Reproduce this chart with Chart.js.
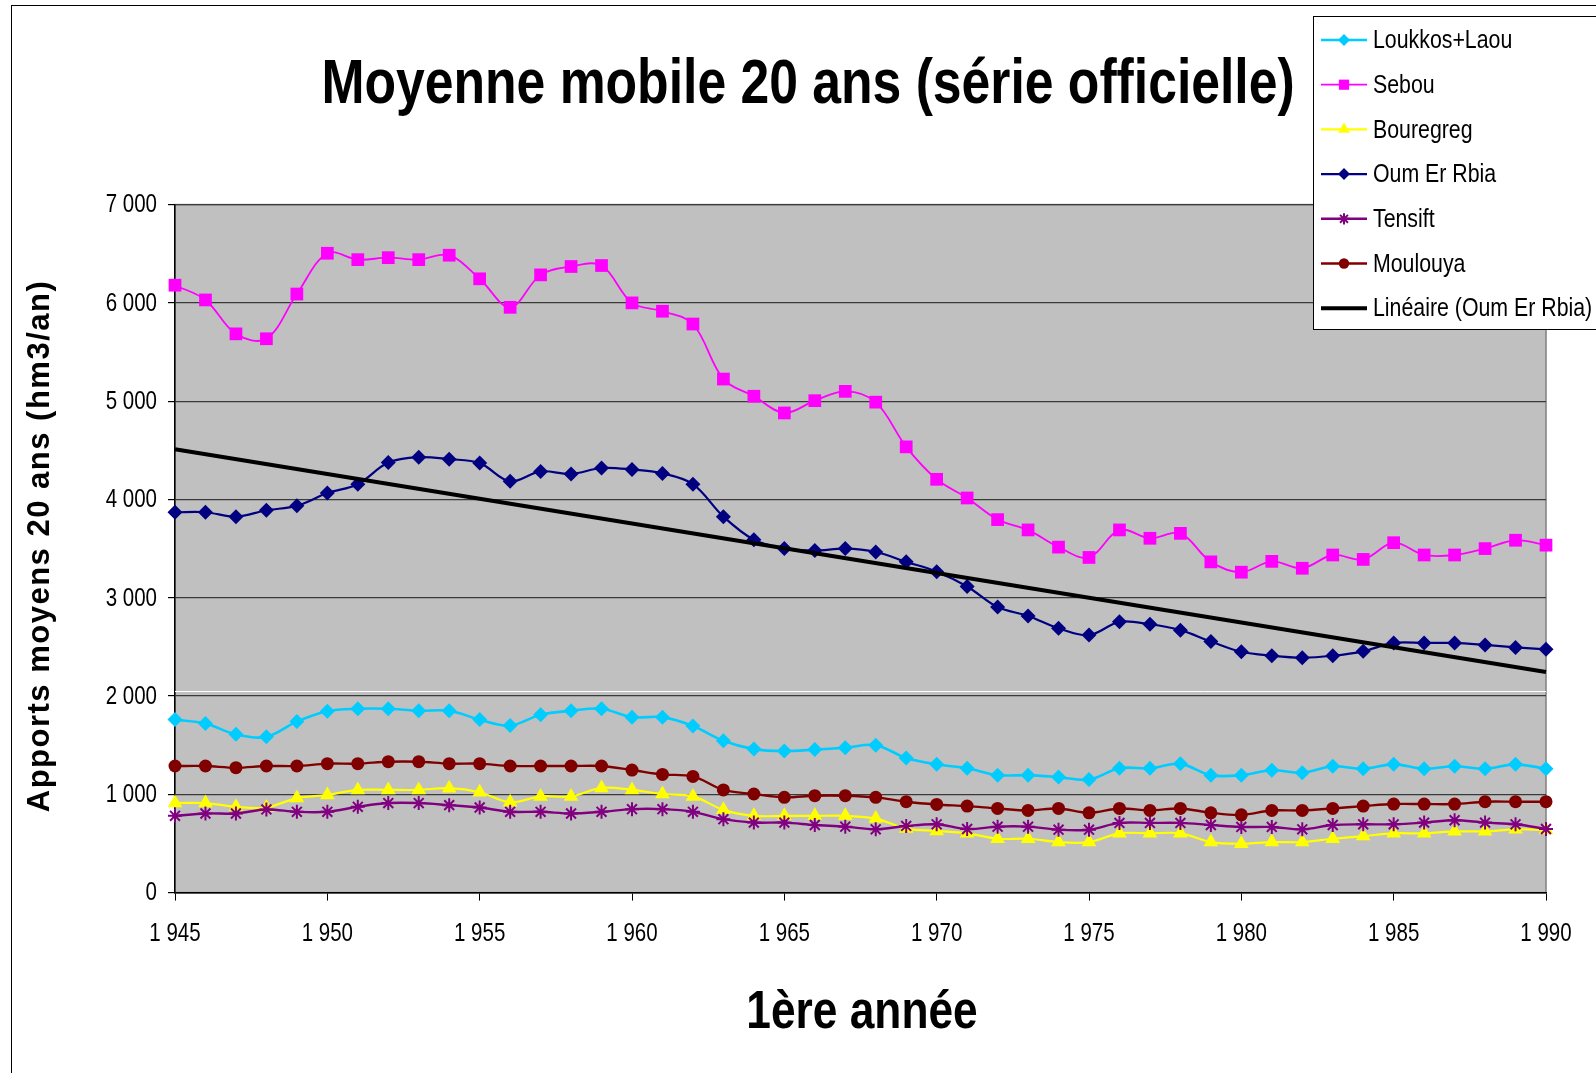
<!DOCTYPE html>
<html>
<head>
<meta charset="utf-8">
<title>Moyenne mobile 20 ans</title>
<script src="https://cdn.jsdelivr.net/npm/chart.js@4.4.1/dist/chart.umd.min.js"></script>
<style>
    body { margin: 0; background: #ffffff; }
    #caja { position: relative; width: 1596px; height: 1073px; }
</style>
</head>
<body>
<div id="caja">
    <canvas id="grafico_moyenne" width="1596" height="1073"></canvas>
</div>
<script>
// DONNEES
var annees = [1945, 1946, 1947, 1948, 1949, 1950, 1951, 1952, 1953, 1954,
    1955, 1956, 1957, 1958, 1959, 1960, 1961, 1962, 1963, 1964,
    1965, 1966, 1967, 1968, 1969, 1970, 1971, 1972, 1973, 1974,
    1975, 1976, 1977, 1978, 1979, 1980, 1981, 1982, 1983, 1984,
    1985, 1986, 1987, 1988, 1989, 1990];

var loukkos = [1760, 1720, 1610, 1585, 1740, 1845, 1870, 1870, 1850, 1850,
    1760, 1700, 1810, 1850, 1870, 1785, 1785, 1695, 1545, 1460,
    1440, 1455, 1475, 1500, 1370, 1305, 1265, 1195, 1195, 1175,
    1150, 1265, 1265, 1310, 1195, 1195, 1245, 1220, 1285, 1260,
    1305, 1260, 1285, 1260, 1305, 1260];

var sebou = [6180, 6030, 5685, 5635, 6090, 6505, 6440, 6460, 6440, 6485,
    6245, 5955, 6285, 6370, 6380, 6000, 5915, 5785, 5225, 5050,
    4880, 5005, 5100, 4990, 4535, 4205, 4015, 3795, 3690, 3515,
    3410, 3690, 3605, 3655, 3365, 3260, 3370, 3300, 3435, 3390,
    3560, 3435, 3435, 3500, 3585, 3535];

var bouregreg = [911, 911, 873, 866, 962, 993, 1045, 1045, 1045, 1062,
    1021, 918, 979, 979, 1065, 1045, 1003, 979, 842, 781,
    781, 781, 781, 753, 651, 627, 603, 548, 548, 514,
    514, 603, 603, 603, 514, 497, 514, 514, 548, 575,
    603, 603, 623, 623, 644, 637];

var oum_er_rbia = [3870, 3870, 3825, 3890, 3935, 4065, 4155, 4375, 4430, 4410,
    4370, 4185, 4285, 4260, 4320, 4305, 4265, 4155, 3825, 3590,
    3500, 3480, 3500, 3465, 3365, 3265, 3115, 2905, 2815, 2690,
    2620, 2755, 2730, 2670, 2555, 2450, 2410, 2390, 2410, 2455,
    2540, 2540, 2540, 2520, 2495, 2475];

var tensift = [781, 805, 805, 846, 822, 822, 873, 911, 911, 890,
    866, 822, 822, 805, 822, 849, 849, 822, 747, 712,
    712, 688, 671, 644, 678, 695, 647, 671, 671, 640,
    640, 709, 709, 709, 688, 668, 668, 644, 688, 695,
    695, 712, 736, 712, 695, 647];

var moulouya = [1288, 1288, 1271, 1288, 1288, 1312, 1312, 1332, 1332, 1312,
    1312, 1288, 1288, 1288, 1288, 1247, 1202, 1182, 1045, 1003,
    969, 986, 986, 969, 925, 897, 880, 856, 836, 856,
    812, 856, 836, 856, 812, 791, 836, 836, 856, 880,
    901, 901, 901, 925, 925, 925];

// tendance lineaire (Oum Er Rbia), extremites
var tendance_annees = [1945, 1990];
var tendance_valeurs = [4510, 2245];

var y_ticks = [0, 1000, 2000, 3000, 4000, 5000, 6000, 7000];

var POLICE = "'Liberation Sans', Arial, sans-serif";
var ETROIT = 0.82; // pas d'Arial Narrow: on comprime la police horizontalement

function Points(xs, ys) {
    var out = [];
    for (var i = 0; i < xs.length; i++) {
        out.push({ x: xs[i], y: ys[i] });
    }
    return out;
}

function Format_Milliers(v) {
    return String(v).replace(/\B(?=(\d{3})+(?!\d))/g, ' ');
}

function Texte_Etroit(ctx, texte, x, y, align, font) {
    ctx.save();
    ctx.translate(x, y);
    ctx.scale(ETROIT, 1);
    ctx.font = font;
    ctx.textAlign = align;
    ctx.fillText(texte, 0, 0);
    ctx.restore();
}

// SERIES
var series = [
    { label: 'Loukkos+Laou', data: loukkos, color: '#00CCFF', style: 'rectRot', radius: 7.5, width: 2.6, order: 6 },
    { label: 'Sebou', data: sebou, color: '#FF00FF', style: 'rect', radius: 9, width: 1.8, order: 5 },
    { label: 'Bouregreg', data: bouregreg, color: '#FFFF00', style: 'triangle', radius: 8.5, width: 2.2, order: 4 },
    { label: 'Oum Er Rbia', data: oum_er_rbia, color: '#000080', style: 'rectRot', radius: 7.5, width: 2.2, order: 3 },
    { label: 'Tensift', data: tensift, color: '#800080', style: 'star', radius: 7, width: 2.4, order: 2 },
    { label: 'Moulouya', data: moulouya, color: '#800000', style: 'circle', radius: 6.5, width: 2.4, order: 1 }
];

var datasets = series.map(function(s) {
    return {
        label: s.label,
        data: Points(annees, s.data),
        borderColor: s.color,
        backgroundColor: s.color,
        borderWidth: s.width,
        pointStyle: s.style,
        pointRadius: s.radius,
        pointBorderWidth: s.style === 'star' ? 2 : 0,
        pointBorderColor: s.color,
        pointBackgroundColor: s.color,
        tension: 0.35,
        clip: false,
        order: s.order
    };
});

datasets.push({
    label: 'Linéaire (Oum Er Rbia)',
    data: Points(tendance_annees, tendance_valeurs),
    borderColor: '#000000',
    borderWidth: 4,
    pointRadius: 0,
    tension: 0,
    clip: false,
    order: 0
});

// FOND DE LA ZONE DE TRACE
var fond_plugin = {
    id: 'fond',
    beforeDraw: function(chart) {
        var ctx = chart.ctx, a = chart.chartArea;
        ctx.save();
        ctx.fillStyle = '#C0C0C0';
        ctx.fillRect(a.left, a.top, a.right - a.left, a.bottom - a.top);
        ctx.strokeStyle = '#808080';
        ctx.lineWidth = 1.5;
        ctx.strokeRect(a.left, a.top, a.right - a.left, a.bottom - a.top);
        ctx.restore();
    },
    beforeDatasetsDraw: function(chart) {
        var ctx = chart.ctx, a = chart.chartArea;
        var y = Math.round(chart.scales.y.getPixelForValue(2050)) + 0.5;
        ctx.save();
        ctx.strokeStyle = '#FFFFFF';
        ctx.lineWidth = 1;
        ctx.beginPath();
        ctx.moveTo(a.left, y);
        ctx.lineTo(a.right, y);
        ctx.stroke();
        ctx.restore();
    }
};

// TITRES, ETIQUETTES, LEGENDE, CADRE
var textes_plugin = {
    id: 'textes',
    afterDraw: function(chart) {
        var ctx = chart.ctx;
        var sx = chart.scales.x, sy = chart.scales.y;
        ctx.save();

        // cadre exterieur
        ctx.strokeStyle = '#000000';
        ctx.lineWidth = 1;
        ctx.strokeRect(11.5, 5.5, 1700, 1200);

        ctx.fillStyle = '#000000';
        ctx.textBaseline = 'middle';

        // etiquettes des axes
        sx.ticks.forEach(function(t) {
            Texte_Etroit(ctx, Format_Milliers(t.value), sx.getPixelForValue(t.value), 934, 'center', '25px ' + POLICE);
        });
        sy.ticks.forEach(function(t) {
            Texte_Etroit(ctx, Format_Milliers(t.value), 157, sy.getPixelForValue(t.value) + 1, 'right', '25px ' + POLICE);
        });

        // titre
        ctx.textBaseline = 'alphabetic';
        Texte_Etroit(ctx, 'Moyenne mobile 20 ans (série officielle)', 808, 103, 'center', 'bold 63px ' + POLICE);

        // titre axe x
        Texte_Etroit(ctx, '1ère année', 862, 1028, 'center', 'bold 54px ' + POLICE);

        // titre axe y
        ctx.save();
        ctx.translate(49, 546);
        ctx.rotate(-Math.PI / 2);
        ctx.font = 'bold 31px ' + POLICE;
        ctx.textAlign = 'center';
        ctx.letterSpacing = '1.5px';
        ctx.fillText('Apports moyens 20 ans (hm3/an)', 0, 0);
        ctx.restore();

        // legende
        ctx.fillStyle = '#FFFFFF';
        ctx.fillRect(1313, 16, 400, 313);
        ctx.strokeStyle = '#000000';
        ctx.lineWidth = 1;
        ctx.strokeRect(1313.5, 16.5, 400, 313);

        var items = chart.data.datasets;
        ctx.textBaseline = 'middle';
        for (var i = 0; i < items.length; i++) {
            var d = items[i];
            var y = 40 + i * 44.7;
            ctx.strokeStyle = d.borderColor;
            ctx.lineWidth = d.borderWidth;
            ctx.beginPath();
            ctx.moveTo(1321, y);
            ctx.lineTo(1367, y);
            ctx.stroke();
            if (d.pointRadius > 0) {
                ctx.fillStyle = d.pointBackgroundColor;
                ctx.strokeStyle = d.pointBorderColor;
                ctx.lineWidth = d.pointBorderWidth;
                Chart.helpers.drawPoint(ctx, {
                    pointStyle: d.pointStyle,
                    rotation: 0,
                    radius: d.pointRadius * 0.8,
                    borderWidth: d.pointBorderWidth
                }, 1344, y);
            }
            ctx.fillStyle = '#000000';
            Texte_Etroit(ctx, d.label, 1373, y + 1, 'left', '26px ' + POLICE);
        }
        ctx.restore();
    }
};

// GRAPHIQUE
function Cargar_Grafico() {
    var ctx = document.getElementById('grafico_moyenne').getContext('2d');
    new Chart(ctx, {
        type: 'line',
        data: { datasets: datasets },
        plugins: [fond_plugin, textes_plugin],
        options: {
            responsive: false,
            animation: false,
            events: [],
            layout: {
                padding: { top: 204.6, right: 50, bottom: 0, left: 0 }
            },
            plugins: {
                legend: { display: false },
                title: { display: false },
                tooltip: { enabled: false }
            },
            scales: {
                x: {
                    type: 'linear',
                    min: annees[0],
                    max: annees[annees.length - 1],
                    afterFit: function(scale) { scale.height = 180.4; },
                    grid: {
                        drawOnChartArea: false,
                        tickLength: 8,
                        tickColor: '#000000'
                    },
                    border: { color: '#000000', width: 1.5 },
                    ticks: {
                        display: false,
                        stepSize: 5
                    }
                },
                y: {
                    min: y_ticks[0],
                    max: y_ticks[y_ticks.length - 1],
                    afterFit: function(scale) { scale.width = 175; },
                    afterBuildTicks: function(scale) {
                        scale.ticks = y_ticks.map(function(v) { return { value: v }; });
                    },
                    grid: {
                        color: '#3a3a3a',
                        lineWidth: 1.2,
                        tickLength: 7,
                        tickColor: '#000000'
                    },
                    border: { color: '#000000', width: 1.5 },
                    ticks: {
                        display: false
                    }
                }
            }
        }
    });
}

Cargar_Grafico();
</script>
</body>
</html>
